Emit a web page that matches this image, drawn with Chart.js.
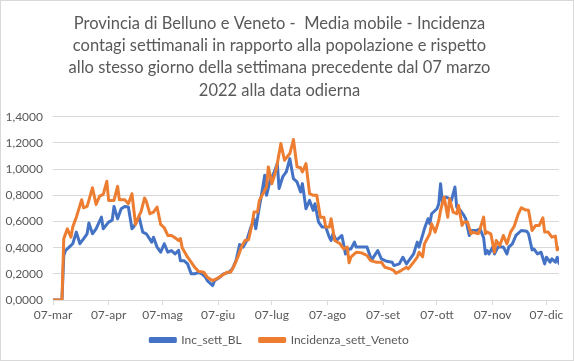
<!DOCTYPE html>
<html>
<head>
<meta charset="utf-8">
<script src="https://cdn.jsdelivr.net/npm/chart.js@4"></script>
<style>
    body { margin: 0; background: #fff; }
    #wrap { position: relative; width: 574px; height: 361px; }
</style>
</head>
<body>
<div id="wrap"><canvas id="incChart" width="574" height="361"></canvas></div>
<script>
// days counted from 07-mar-2022 (day 0) to 14-dic (day 282)
const tickDays = [0, 31, 61, 92, 122, 153, 184, 214, 245, 275];
const tickLabels = ['07-mar', '07-apr', '07-mag', '07-giu', '07-lug', '07-ago', '07-set', '07-ott', '07-nov', '07-dic'];

const blDays = [0, 5, 6, 7, 9, 11, 13, 15, 17, 19, 20, 22, 24, 27, 28, 31, 33, 34, 36, 38, 40, 42, 44, 45, 48, 50, 52, 55, 56, 58,
    60, 62, 64, 66, 68, 70, 71, 73, 75, 77, 79, 81, 83, 85, 86, 89, 90, 93, 95, 98, 100, 102, 104, 106, 108, 110, 112, 113, 115, 116,
    118, 119, 121, 123, 125, 126, 128, 130, 132, 134, 136, 138, 139, 141, 143, 145, 146, 148, 150, 152, 154, 155, 156, 158, 161, 163, 165, 166, 168, 169,
    172, 175, 177, 178, 181, 183, 186, 189, 190, 193, 195, 197, 199, 201, 203, 204, 207, 209, 210, 211, 214, 215, 216, 217, 219, 221, 222, 224, 225, 227,
    229, 230, 232, 233, 236, 238, 240, 241, 242, 243, 245, 246, 248, 251, 253, 254, 256, 258, 261, 264, 265, 267, 268, 270, 272, 274, 275, 277, 278, 280,
    281, 282];
const blValues = [0, 0, 0.34, 0.378, 0.404, 0.43, 0.519, 0.43, 0.467, 0.506, 0.588, 0.506, 0.544, 0.633, 0.544, 0.595, 0.61, 0.715, 0.62, 0.697, 0.715, 0.71, 0.544, 0.56, 0.633, 0.519, 0.506, 0.442, 0.48, 0.404,
    0.365, 0.43, 0.365, 0.378, 0.352, 0.38, 0.3, 0.3, 0.276, 0.2, 0.2, 0.212, 0.2, 0.174, 0.148, 0.11, 0.148, 0.174, 0.2, 0.212, 0.238, 0.301, 0.424, 0.404, 0.455, 0.544, 0.621, 0.544, 0.71, 0.787,
    0.953, 0.8, 0.914, 0.966, 1.042, 0.851, 0.94, 0.978, 1.08, 0.927, 0.902, 0.825, 0.889, 0.697, 0.761, 0.685, 0.736, 0.595, 0.557, 0.557, 0.48, 0.455, 0.506, 0.455, 0.493, 0.352, 0.39, 0.39, 0.442, 0.404,
    0.404, 0.404, 0.327, 0.314, 0.378, 0.314, 0.296, 0.289, 0.263, 0.276, 0.327, 0.276, 0.314, 0.352, 0.442, 0.404, 0.544, 0.621, 0.582, 0.659, 0.697, 0.736, 0.889, 0.748, 0.787, 0.774, 0.76, 0.863, 0.71, 0.685,
    0.646, 0.621, 0.493, 0.531, 0.531, 0.544, 0.475, 0.352, 0.378, 0.352, 0.404, 0.352, 0.404, 0.404, 0.352, 0.404, 0.429, 0.493, 0.531, 0.526, 0.506, 0.383, 0.39, 0.352, 0.365, 0.276, 0.327, 0.289, 0.314, 0.289,
    0.327, 0.28];

const venDays = [0, 5, 6, 8, 10, 11, 13, 16, 17, 19, 20, 22, 24, 26, 28, 30, 31, 34, 36, 37, 40, 42, 44, 46, 48, 49, 51, 52, 54, 56,
    58, 60, 62, 64, 66, 68, 70, 71, 72, 75, 77, 79, 81, 84, 86, 89, 91, 94, 97, 99, 101, 103, 105, 107, 109, 111, 112, 114, 115, 117,
    119, 120, 122, 124, 125, 127, 129, 132, 134, 136, 138, 139, 141, 143, 145, 147, 149, 151, 152, 154, 155, 157, 160, 162, 164, 165, 166, 169, 172, 175,
    177, 180, 183, 185, 188, 190, 191, 194, 197, 198, 201, 203, 204, 206, 207, 210, 211, 213, 215, 216, 218, 220, 221, 223, 225, 226, 228, 229, 231, 233,
    234, 237, 238, 240, 241, 242, 244, 246, 247, 249, 251, 253, 255, 257, 259, 261, 263, 265, 267, 269, 271, 273, 274, 276, 278, 280, 281, 282];
const venValues = [0, 0, 0.467, 0.544, 0.48, 0.557, 0.633, 0.766, 0.705, 0.715, 0.761, 0.858, 0.73, 0.794, 0.807, 0.907, 0.761, 0.761, 0.868, 0.766, 0.766, 0.736, 0.812, 0.577, 0.646, 0.672, 0.779, 0.754, 0.659, 0.672,
    0.71, 0.577, 0.552, 0.493, 0.493, 0.475, 0.455, 0.47, 0.4, 0.327, 0.29, 0.25, 0.22, 0.212, 0.174, 0.148, 0.161, 0.186, 0.212, 0.212, 0.263, 0.327, 0.404, 0.455, 0.46, 0.582, 0.672, 0.672, 0.761, 0.812,
    0.863, 1.017, 0.889, 0.978, 1.042, 1.195, 1.068, 1.119, 1.226, 1.017, 1.01, 0.978, 1.042, 0.812, 0.8, 0.8, 0.633, 0.633, 0.557, 0.557, 0.621, 0.455, 0.429, 0.39, 0.404, 0.284, 0.327, 0.365, 0.36, 0.34,
    0.301, 0.289, 0.289, 0.25, 0.238, 0.225, 0.204, 0.225, 0.25, 0.238, 0.289, 0.327, 0.365, 0.33, 0.429, 0.506, 0.582, 0.519, 0.608, 0.685, 0.787, 0.633, 0.774, 0.672, 0.659, 0.723, 0.57, 0.595, 0.595, 0.506,
    0.519, 0.506, 0.544, 0.633, 0.506, 0.519, 0.506, 0.365, 0.455, 0.416, 0.493, 0.429, 0.519, 0.562, 0.646, 0.705, 0.69, 0.685, 0.531, 0.57, 0.57, 0.628, 0.519, 0.519, 0.48, 0.488, 0.383, 0.398];

const titleLines = [
    'Provincia di Belluno e Veneto -  Media mobile - Incidenza',
    'contagi settimanali in rapporto alla popolazione e rispetto',
    'allo stesso giorno della settimana precedente dal 07 marzo',
    '2022 alla data odierna'
];

const toPoints = (days, values) => days.map((d, i) => ({ x: d, y: values[i] }));

const chartBorder = {
    id: 'chartBorder',
    afterDraw(chart) {
        const ctx = chart.ctx;
        ctx.save();
        ctx.strokeStyle = '#d9d9d9';
        ctx.lineWidth = 1;
        ctx.strokeRect(0.5, 0.5, chart.width - 1, chart.height - 1);
        ctx.restore();
    }
};

// lift the legend a bit closer to the axis labels
const legendLift = {
    id: 'legendLift',
    afterLayout(chart) {
        if (chart.legend) {
            chart.legend.top -= 5;
            chart.legend.bottom -= 5;
        }
    }
};

const ctx = document.getElementById('incChart').getContext('2d');
new Chart(ctx, {
    type: 'line',
    data: {
        datasets: [{
            label: 'Inc_sett_BL',
            data: toPoints(blDays, blValues),
            borderColor: '#4472C4',
            backgroundColor: '#4472C4',
            borderWidth: 3,
            order: 2
        }, {
            label: 'Incidenza_sett_Veneto',
            data: toPoints(venDays, venValues),
            borderColor: '#ED7D31',
            backgroundColor: '#ED7D31',
            borderWidth: 3,
            order: 1
        }]
    },
    options: {
        responsive: false,
        animation: false,
        devicePixelRatio: 1,
        elements: {
            point: { radius: 0 },
            line: { tension: 0, borderJoinStyle: 'round', borderCapStyle: 'round' }
        },
        layout: { padding: { left: 0, right: 15, top: 0, bottom: 0 } },
        scales: {
            x: {
                type: 'linear',
                min: 0,
                max: 282,
                afterBuildTicks: scale => { scale.ticks = tickDays.map(v => ({ value: v })); },
                afterFit: scale => { scale.height = 21; },
                ticks: {
                    autoSkip: false,
                    maxRotation: 0,
                    padding: 3,
                    color: '#595959',
                    font: { family: 'Lato', size: 12 },
                    callback: v => tickLabels[tickDays.indexOf(v)]
                },
                grid: { drawOnChartArea: false, drawTicks: true, tickLength: 5, color: '#d9d9d9' },
                border: { color: '#d9d9d9' }
            },
            y: {
                min: 0,
                max: 1.4,
                afterFit: scale => { scale.width = 53; },
                ticks: {
                    stepSize: 0.2,
                    padding: 10,
                    color: '#595959',
                    font: { family: 'Lato', size: 12 },
                    callback: v => v.toFixed(4).replace('.', ',')
                },
                grid: { color: '#d9d9d9', drawTicks: false },
                border: { display: false }
            }
        },
        plugins: {
            title: {
                display: true,
                text: titleLines,
                color: '#595959',
                font: { family: 'Lato', size: 16.5, weight: 'normal', lineHeight: 1.36 },
                padding: { top: 12, bottom: 15 }
            },
            legend: {
                position: 'bottom',
                labels: {
                    boxWidth: 25,
                    boxHeight: 3,
                    padding: 18,
                    color: '#595959',
                    font: { family: 'Lato', size: 12 },
                    sort: (a, b) => a.datasetIndex - b.datasetIndex
                }
            },
            tooltip: { enabled: false }
        }
    },
    plugins: [chartBorder, legendLift]
});
</script>
</body>
</html>
